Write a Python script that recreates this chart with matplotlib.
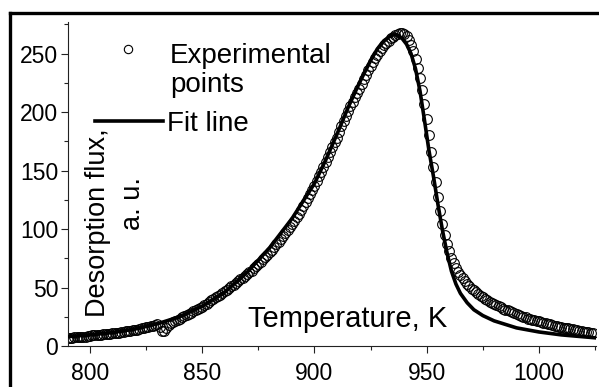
import matplotlib

matplotlib.use("Agg")
import matplotlib.pyplot as plt
from matplotlib import ticker
from matplotlib.lines import Line2D

plt.rcParams["font.family"] = ["Liberation Sans", "DejaVu Sans"]

# Experimental TDS points, one per kelvin from 790 K to 1024 K (flux in a.u.)
T_EXP = list(range(790, 1025))
FLUX_EXP = [
    7, 7, 7, 7.5, 7.5, 7.5, 8, 8, 8, 8.5,                  # 790
    8.5, 9, 9, 9, 9.5, 9.5, 10, 10, 10.5, 10.5,            # 800
    11, 11, 11.5, 11.5, 12, 12, 12.5, 13, 13, 13.5,        # 810
    14, 14, 14.5, 15, 15.5, 16, 16.5, 17, 17.5, 18,        # 820
    18.5, 16, 13, 13, 15, 18, 19.5, 20.5, 21.5, 22.5,      # 830
    23.5, 24.5, 25.5, 26.5, 27.5, 28.5, 29.5, 30.5, 31.5, 32.5,  # 840
    33.5, 35, 36, 37.5, 39, 40, 41.5, 43, 44, 45.5,        # 850
    47, 48, 49.5, 51, 52.5, 54, 55.5, 57, 58.5, 60,        # 860
    61.5, 63, 64.5, 66.5, 68.5, 70.5, 72, 74, 76, 78,      # 870
    80, 82.5, 85, 87, 89, 91.5, 94, 96.5, 99, 101.5,       # 880
    104, 107, 110, 113, 116, 119.5, 123, 126.5, 130, 133.5,  # 890
    137, 141, 145, 149, 153, 157.5, 162, 166, 170, 174,    # 900
    178, 183, 188, 192.5, 197, 201, 205, 209, 213, 216.5,  # 910
    220, 224, 228, 232, 236, 239.5, 243, 246, 249, 252,    # 920
    255, 257, 259, 261, 263, 264.5, 266, 267, 268, 268,    # 930
    267, 265, 262, 257.5, 252, 245.5, 238, 229, 219, 207,  # 940
    194, 180, 166, 153, 140, 127, 115, 104, 95, 87.5,      # 950
    81, 75.5, 71, 67, 63, 60.5, 58, 55.5, 53, 51,          # 960
    49, 47.5, 46, 44.5, 43, 41.5, 40.5, 39, 38, 37,        # 970
    36, 35, 34, 33, 32, 31, 30.5, 29.5, 29, 28,            # 980
    27.5, 26.5, 26, 25, 24.5, 23.5, 23, 22.5, 22, 21.5,    # 990
    21, 20.5, 20, 19.5, 19, 18.5, 18, 17.5, 17, 16.5,      # 1000
    16, 15.7, 15.4, 15, 14.6, 14.2, 13.8, 13.4, 13, 12.7,  # 1010
    12.3, 12, 11.6, 11.3, 11,                              # 1020
]

# Fit line
T_FIT = [
    790, 800, 810, 820, 830, 840, 850, 860, 870, 880,
    890, 900, 905, 910, 915, 920, 925, 928, 931, 933,
    935, 937, 939, 941, 943, 945, 947, 949, 951, 953,
    955, 957, 959, 961, 963, 965, 968, 971, 975, 980,
    985, 990, 1000, 1010, 1025,
]
FLUX_FIT = [
    8, 9.5, 11.5, 14.5, 19, 25, 34, 46, 63, 84,
    109, 139, 159, 181, 204, 225, 244, 254, 261, 264,
    266, 266, 263, 258, 250, 237, 218, 193, 167, 145,
    121, 99, 80, 64, 53, 45, 37, 31, 26, 21.5,
    18.5, 15.5, 12, 9.5, 7,
]

W, H = 599, 387


def fx(px):
    return px / W


def fy(py):
    return 1 - py / H


fig = plt.figure(figsize=(W / 100, H / 100), dpi=100)
ax = fig.add_axes([fx(68), fy(346), fx(596) - fx(68), fy(22) - fy(346)])

ax.plot(
    T_EXP, FLUX_EXP, "o", ms=7, mfc="none", mec="black", mew=0.8, zorder=2
)
ax.plot(T_FIT, FLUX_FIT, "-", color="black", lw=2.6, zorder=3)

ax.set_xlim(790.2, 1025.4)
ax.set_ylim(0, 277)

for side in ("top", "right"):
    ax.spines[side].set_visible(False)
for side in ("left", "bottom"):
    ax.spines[side].set_linewidth(0.8)
    ax.spines[side].set_color("#222222")

ax.xaxis.set_major_locator(ticker.MultipleLocator(50))
ax.xaxis.set_minor_locator(ticker.MultipleLocator(25))
ax.yaxis.set_major_locator(ticker.MultipleLocator(50))
ax.yaxis.set_minor_locator(ticker.MultipleLocator(25))
ax.tick_params(which="major", direction="out", length=5, width=0.8,
               color="#222222", labelsize=16.5, pad=2)
ax.tick_params(which="minor", direction="out", length=3, width=0.8,
               color="#222222")
ax.tick_params(axis="x", which="major", pad=6.5)

# in-plot axis labels
fig.text(fx(248), fy(327), "Temperature, K", fontsize=21, va="baseline")
fig.text(fx(105), fy(317), "Desorption flux,", fontsize=19.5,
         rotation=90, rotation_mode="anchor", ha="left", va="baseline")
fig.text(fx(140), fy(230), "a. u.", fontsize=19.5,
         rotation=90, rotation_mode="anchor", ha="left", va="baseline")

# hand-placed legend
fig.add_artist(Line2D([fx(128)], [fy(49)], marker="o", ms=6, mfc="none",
                      mec="black", mew=0.8))
fig.add_artist(Line2D([fx(95), fx(163)], [fy(121), fy(121)],
                      color="black", lw=2.6))
fig.text(fx(170), fy(63), "Experimental", fontsize=20, va="baseline")
fig.text(fx(170), fy(92), "points", fontsize=20, va="baseline")
fig.text(fx(167), fy(131), "Fit line", fontsize=20, va="baseline")

# outer frame (top and left edges visible)
fig.add_artist(Line2D([fx(10), fx(10)], [fy(13), 0], color="black", lw=2.4))
fig.add_artist(Line2D([fx(10), 1], [fy(13), fy(13)], color="black", lw=2.4))

fig.savefig("out.png", dpi=100)
